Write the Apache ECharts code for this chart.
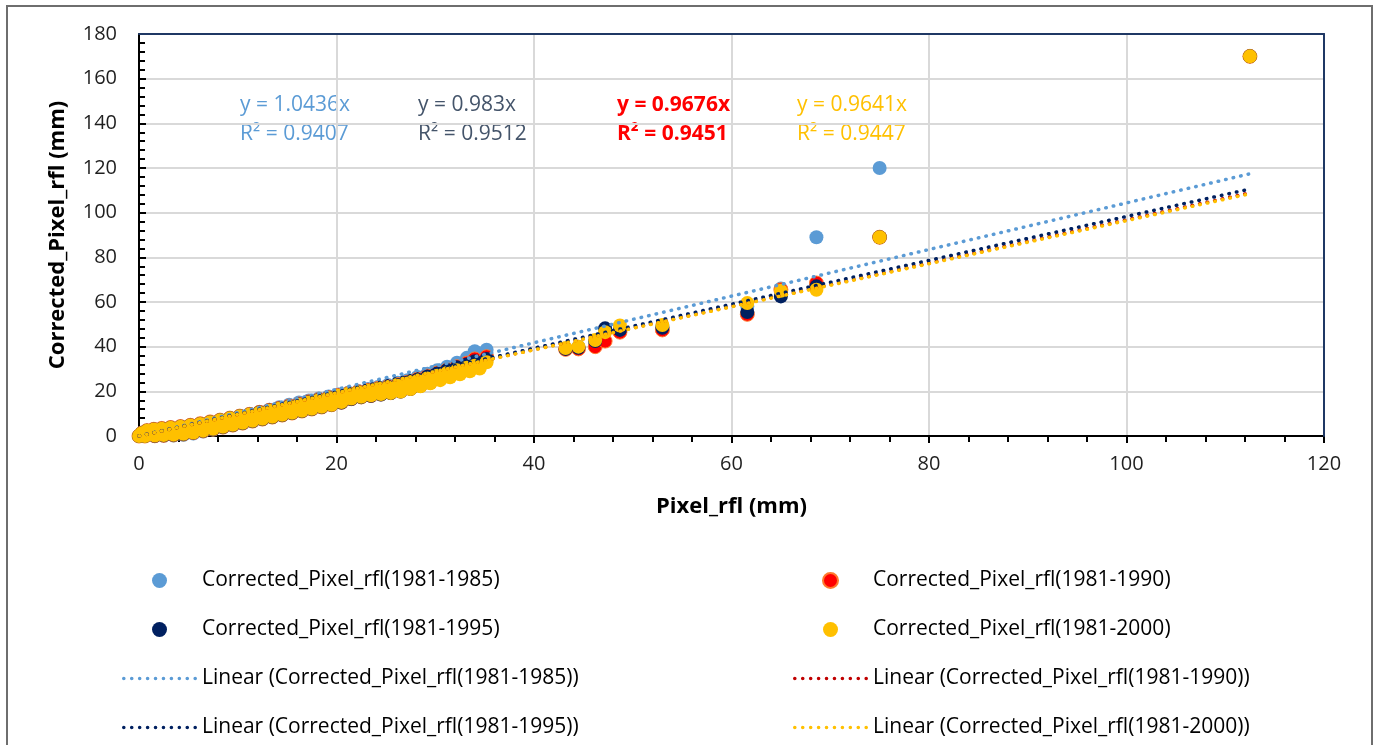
<!DOCTYPE html>
<html>
<head>
<meta charset="utf-8">
<title>Corrected_Pixel_rfl vs Pixel_rfl</title>
<script src="https://cdn.jsdelivr.net/npm/echarts@6/dist/echarts.min.js"></script>
<style>
  html, body { margin: 0; padding: 0; background: #ffffff; }
  #chart { width: 1373px; height: 745px; }
</style>
</head>
<body>
<div id="chart"></div>
<script>
// Pixel rainfall (mm) – shared x values for every period
const pixelRfl = [
  0, 0.3, 0.6, 0.8, 1.5, 1.6, 2.3, 2.5, 3.2, 3.5, 4.2, 4.5, 5.2, 5.5, 6.2, 6.5,
  7.2, 7.5, 8.2, 8.5, 9.2, 9.5, 10.2, 10.5, 11.2, 11.5, 12.2, 12.5, 13.2, 13.5,
  14.2, 14.5, 15.2, 15.5, 16.2, 16.5, 17.2, 17.5, 18.2, 18.5, 19.2, 19.5, 20.2,
  20.5, 21.2, 21.5, 22.2, 22.5, 23.2, 23.5, 24.2, 24.5, 25.2, 25.5, 26.2, 26.5,
  27.2, 27.5, 28.2, 28.5, 29.2, 29.5, 30.2, 30.5, 31.2, 31.5, 32.2, 32.5, 33.2,
  33.5, 34.0, 34.5, 35.2,
  43.2, 44.5, 46.2, 47.2, 48.7, 53.0, 61.6, 65.0, 68.6, 75.0, 112.5
];

// Corrected pixel rainfall (mm) for each calibration period
const corrected1985 = [
  0, 1.4, 0.0, 2.5, 3.0, 0.0, 3.4, 0.1, 3.8, 0.2, 4.2, 0.5, 4.8, 1.1, 5.5, 2.0,
  6.3, 2.9, 7.2, 3.9, 8.1, 4.8, 9.0, 5.7, 9.9, 6.6, 10.8, 7.5, 11.8, 8.4,
  12.9, 9.3, 14.0, 10.3, 15.0, 11.2, 15.9, 12.2, 16.8, 13.2, 17.7, 14.2, 18.6,
  15.4, 19.4, 17.0, 20.2, 18.0, 21.0, 18.8, 21.9, 19.6, 22.8, 20.4, 23.8, 21.2,
  25.0, 22.5, 26.4, 24.0, 27.9, 25.6, 29.4, 27.3, 31.0, 29.0, 32.8, 30.8, 35.0,
  33.0, 38.0, 35.5, 38.6,
  39.0, 40.0, 41.5, 47.5, 48.0, 49.0, 58.0, 66.0, 89.0, 120.0, 170.0
];
const corrected1990 = [
  0, 1.3, 0.0, 2.4, 3.0, 0.1, 3.4, 0.3, 3.8, 0.5, 4.2, 0.9, 4.8, 1.5, 5.5, 2.3,
  6.3, 3.1, 7.1, 4.0, 8.0, 4.9, 8.9, 5.8, 9.7, 6.7, 10.6, 7.6, 11.5, 8.5,
  12.4, 9.4, 13.4, 10.3, 14.3, 11.2, 15.3, 12.1, 16.3, 13.0, 17.2, 14.0, 18.2,
  15.1, 19.0, 16.7, 19.8, 17.5, 20.5, 18.1, 21.3, 18.8, 22.1, 19.4, 23.0, 20.1,
  24.1, 21.3, 25.4, 22.7, 26.8, 24.1, 28.2, 25.6, 29.6, 27.0, 31.0, 28.5, 32.6,
  30.0, 34.5, 31.5, 35.5,
  38.8, 39.0, 40.0, 42.5, 46.5, 47.5, 54.5, 65.5, 68.5, 89.0, 170.0
];
const corrected1995 = [
  0, 1.2, 0.0, 2.3, 2.9, 0.1, 3.3, 0.3, 3.7, 0.5, 4.1, 0.9, 4.7, 1.5, 5.4, 2.3,
  6.2, 3.1, 7.0, 4.0, 7.9, 4.9, 8.8, 5.8, 9.6, 6.7, 10.5, 7.6, 11.4, 8.5,
  12.3, 9.4, 13.2, 10.3, 14.1, 11.2, 15.1, 12.1, 16.1, 13.0, 17.1, 14.0, 18.0,
  15.0, 18.8, 16.6, 19.6, 17.4, 20.3, 18.0, 21.1, 18.6, 21.9, 19.2, 22.8, 19.9,
  23.9, 21.1, 25.2, 22.5, 26.6, 23.9, 28.0, 25.4, 29.5, 26.8, 30.8, 28.2, 32.0,
  29.6, 33.5, 31.0, 34.5,
  39.0, 39.5, 42.5, 48.2, 47.5, 48.5, 55.5, 62.5, 67.0, 89.0, 170.0
];
const corrected2000 = [
  0, 1.2, 0.0, 2.3, 2.9, 0.2, 3.3, 0.4, 3.7, 0.6, 4.1, 1.0, 4.7, 1.6, 5.4, 2.4,
  6.2, 3.2, 7.0, 4.1, 7.9, 5.0, 8.8, 5.9, 9.6, 6.8, 10.4, 7.7, 11.3, 8.6,
  12.2, 9.5, 13.1, 10.4, 14.0, 11.3, 15.0, 12.2, 16.0, 13.1, 17.0, 14.0, 18.0,
  15.2, 18.9, 16.8, 19.6, 17.6, 20.3, 18.2, 21.0, 18.8, 21.7, 19.3, 22.5, 19.9,
  23.5, 21.0, 24.6, 22.3, 25.8, 23.6, 27.0, 25.0, 28.2, 26.3, 29.4, 27.6, 30.6,
  29.0, 31.5, 30.2, 33.0,
  39.4, 40.0, 43.0, 46.5, 49.5, 49.7, 59.5, 65.0, 65.5, 89.0, 170.0
];

// Period names, colours and fitted slopes (trendlines forced through zero)
const periods = ['1981-1985', '1981-1990', '1981-1995', '1981-2000'];
const pointColors = ['#5B9BD5', '#FF0000', '#002060', '#FFC000'];
const trendColors = ['#5B9BD5', '#C00000', '#002060', '#FFC000'];
const slopes = [1.0436, 0.9676, 0.983, 0.9641];
const rSquared = [0.9407, 0.9451, 0.9512, 0.9447];
const xTicks = { min: 0, max: 120, interval: 20 };
const yTicks = { min: 0, max: 180, interval: 20 };

const valueSets = [corrected1985, corrected1990, corrected1995, corrected2000];
const FONT = '"Open Sans", "Liberation Sans", sans-serif';

const scatterName = p => 'Corrected_Pixel_rfl(' + p + ')';
const linearName = p => 'Linear (Corrected_Pixel_rfl(' + p + '))';

// A row of small round dots used as the legend icon of the dotted trendlines
function dotRowIcon(count, w, h, r) {
  let d = 'path://M0 0 M' + w + ' ' + h;
  const step = (w - 2 * r) / (count - 1);
  for (let i = 0; i < count; i++) {
    const cx = r + i * step;
    d += ' M' + (cx - r) + ' ' + (h / 2) +
      ' a' + r + ' ' + r + ' 0 1 0 ' + (2 * r) + ' 0' +
      ' a' + r + ' ' + r + ' 0 1 0 ' + (-2 * r) + ' 0 Z';
  }
  return d;
}
const trendIcon = dotRowIcon(10, 75, 15, 1.8);

const scatterSeries = periods.map((p, i) => ({
  name: scatterName(p),
  type: 'scatter',
  symbol: 'circle',
  symbolSize: 14,
  z: 2,
  itemStyle: i === 1
    ? { color: pointColors[i], opacity: 1, borderColor: '#FF7A2E', borderWidth: 1 }
    : { color: pointColors[i], opacity: 1 },
  emphasis: { disabled: true },
  data: pixelRfl.map((x, k) => [x, valueSets[i][k]])
}));

const xMax = Math.max.apply(null, pixelRfl);
const trendSeries = periods.map((p, i) => ({
  name: linearName(p),
  type: 'line',
  symbol: 'none',
  z: 3,
  silent: true,
  lineStyle: { color: trendColors[i], width: 3.5, type: [0.5, 7.2], cap: 'round' },
  itemStyle: { color: trendColors[i] },
  data: [[0, 0], [xMax, +(slopes[i] * xMax).toFixed(4)]]
}));

// Equation labels above the plot
const eqSpecs = [
  { idx: 0, x: 240, color: '#5B9BD5', weight: 'normal' },
  { idx: 2, x: 418, color: '#44546A', weight: 'normal' },
  { idx: 1, x: 617, color: '#FF0000', weight: 'bold' },
  { idx: 3, x: 797, color: '#FFC000', weight: 'normal' }
];
const eqGraphics = [];
eqSpecs.forEach(s => {
  eqGraphics.push({
    type: 'text', x: s.x, y: 105, silent: true,
    style: { text: 'y = ' + slopes[s.idx] + 'x', fill: s.color, font: s.weight + ' 21px ' + FONT, verticalAlign: 'middle' }
  });
  eqGraphics.push({
    type: 'text', x: s.x, y: 134, silent: true,
    style: { text: 'R\u00B2 = ' + rSquared[s.idx], fill: s.color, font: s.weight + ' 21px ' + FONT, verticalAlign: 'middle' }
  });
});

const chart = echarts.init(document.getElementById('chart'), null, { renderer: 'canvas' });

const axisCommon = {
  type: 'value',
  axisLine: { show: true, onZero: false, lineStyle: { color: '#000000', width: 2 } },
  axisTick: { show: true, length: 7, lineStyle: { color: '#000000', width: 2 } },
  minorTick: { show: true, splitNumber: 5, length: 6, lineStyle: { color: '#000000', width: 2 } },
  splitLine: { show: true, lineStyle: { color: '#D9D9D9', width: 2 } },
  axisLabel: { color: '#1F1F1F', fontSize: 20, fontFamily: FONT },
  nameTextStyle: { color: '#000000', fontSize: 22, fontWeight: 'bold', fontFamily: FONT }
};

// Frame of the plot area on the top and right sides
const frameAxis = {
  type: 'value',
  axisLine: { show: true, onZero: false, lineStyle: { color: '#1F3864', width: 2 } },
  axisTick: { show: false },
  axisLabel: { show: false },
  splitLine: { show: false },
  z: 6
};

const legendCommon = {
  top: 565, orient: 'vertical', itemWidth: 75, itemHeight: 15, itemGap: 28,
  selectedMode: false, height: 200,
  textStyle: { color: '#000000', fontSize: 21, lineHeight: 20, fontFamily: FONT }
};

chart.setOption({
  animation: false,
  textStyle: { fontFamily: FONT },
  grid: { left: 139, right: 49, top: 34, bottom: 309 },
  xAxis: [
    Object.assign({}, axisCommon, {
      min: xTicks.min, max: xTicks.max, interval: xTicks.interval,
      name: 'Pixel_rfl (mm)', nameLocation: 'middle', nameGap: 60,
      axisTick: Object.assign({}, axisCommon.axisTick, { inside: false }),
      axisLabel: Object.assign({}, axisCommon.axisLabel, { margin: 18 })
    }),
    Object.assign({}, frameAxis, { position: 'top', min: xTicks.min, max: xTicks.max })
  ],
  yAxis: [
    Object.assign({}, axisCommon, {
      min: yTicks.min, max: yTicks.max, interval: yTicks.interval,
      name: 'Corrected_Pixel_rfl (mm)', nameLocation: 'middle', nameGap: 70,
      axisTick: Object.assign({}, axisCommon.axisTick, { inside: true }),
      axisLabel: Object.assign({}, axisCommon.axisLabel, { margin: 22 })
    }),
    Object.assign({}, frameAxis, { position: 'right', min: yTicks.min, max: yTicks.max })
  ],
  legend: [
    Object.assign({}, legendCommon, {
      left: 117,
      data: [
        { name: scatterName(periods[0]), icon: 'circle' },
        { name: scatterName(periods[2]), icon: 'circle' },
        { name: linearName(periods[0]), icon: trendIcon },
        { name: linearName(periods[2]), icon: trendIcon }
      ]
    }),
    Object.assign({}, legendCommon, {
      left: 788,
      data: [
        { name: scatterName(periods[1]), icon: 'circle' },
        { name: scatterName(periods[3]), icon: 'circle' },
        { name: linearName(periods[1]), icon: trendIcon },
        { name: linearName(periods[3]), icon: trendIcon }
      ]
    })
  ],
  graphic: [
    {
      type: 'rect', silent: true, z: -10,
      shape: { x: 7, y: 6, width: 1365, height: 760 },
      style: { fill: 'none', stroke: '#6E6E6E', lineWidth: 2 }
    }
  ].concat(eqGraphics),
  series: scatterSeries.concat(trendSeries)
});
</script>
</body>
</html>
